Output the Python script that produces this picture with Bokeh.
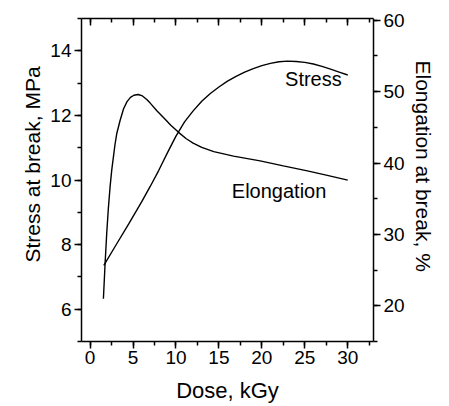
from bokeh.plotting import figure
from bokeh.models import Range1d, LinearAxis, SingleIntervalTicker, Label, Title
from bokeh.embed import file_html
from bokeh.resources import INLINE

# ---- data ----
stress_dose = [1.6, 3, 4.5, 6, 7, 8, 9, 10, 11, 12, 13, 14, 15, 16, 17, 18, 19, 20,
               21, 22, 23, 24, 25, 26, 27, 28, 29, 30]
stress_mpa = [7.36, 7.98, 8.64, 9.32, 9.8, 10.3, 10.84, 11.36, 11.8, 12.14, 12.44, 12.68,
              12.88, 13.06, 13.21, 13.34, 13.45, 13.54, 13.61, 13.66, 13.68, 13.67, 13.64,
              13.59, 13.52, 13.43, 13.34, 13.25]

elong_dose = [1.55, 1.75, 1.94, 2.13, 2.33, 2.52, 2.72, 2.9, 3.1, 3.5, 3.9, 4.3, 4.7, 5.1, 5.6,
              6.1, 6.6, 7.0, 7.8, 8.6, 9.4, 10.3, 11.2, 12.0, 13.0, 14.4, 16.7, 19.8, 22.5,
              25.3, 27.5, 30]
elong_pct = [21.0, 26.0, 30.2, 33.7, 36.7, 39.0, 40.9, 42.6, 44.1, 46.0, 47.6, 48.6, 49.2, 49.5,
             49.6, 49.4, 48.9, 48.4, 47.3, 46.3, 45.3, 44.3, 43.4, 42.8, 42.2, 41.6, 40.97,
             40.3, 39.6, 38.9, 38.3, 37.6]

x_title = "Dose, kGy"
y_title = "Stress at break, MPa"
y2_title = "Elongation at break, %"
label_stress = ("Stress", 22.7, 13.14)
label_elong = ("Elongation", 16.5, 9.67)

FONT = "Liberation Sans"
W, H = 441, 406

p = figure(width=W, height=H, output_backend="svg", toolbar_location=None,
           x_range=Range1d(-1, 33), y_range=Range1d(5, 15),
           min_border_left=81, min_border_right=68, min_border_top=18, min_border_bottom=65)
p.extra_y_ranges = {"elong": Range1d(15, 60.25)}
p.grid.visible = False
p.outline_line_color = None
p.background_fill_color = "white"
p.border_fill_color = "white"

p.line(stress_dose, stress_mpa, line_color="black", line_width=1.4)
p.line(elong_dose, elong_pct, line_color="black", line_width=1.4, y_range_name="elong")

def style(ax, ticks_in=False, labels=True, standoff=3):
    ax.axis_line_color = "black"
    ax.axis_line_width = 1.5
    ax.major_tick_line_color = "black"
    ax.minor_tick_line_color = "black"
    ax.major_tick_line_width = 1.5
    ax.minor_tick_line_width = 1.5
    if ticks_in:
        ax.major_tick_in, ax.major_tick_out = 7, 0
        ax.minor_tick_in, ax.minor_tick_out = 4, 0
    else:
        ax.major_tick_in, ax.major_tick_out = 0, 7
        ax.minor_tick_in, ax.minor_tick_out = 0, 4
    ax.major_label_text_font = FONT
    ax.axis_label_text_font = FONT
    ax.axis_label_text_font_style = "normal"
    ax.axis_label_text_font_size = "22px"
    ax.axis_label_text_color = "black"
    if labels:
        ax.major_label_text_color = "black"
        ax.major_label_text_font_size = "19px"
        ax.major_label_standoff = standoff
    else:
        ax.major_label_text_color = None
        ax.major_label_text_font_size = "1px"
        ax.major_label_standoff = 0

xb = p.xaxis[0]
xb.ticker = SingleIntervalTicker(interval=5, num_minor_ticks=2)
xb.axis_label = x_title
xb.axis_label_standoff = 11
style(xb, standoff=2)

yl = p.yaxis[0]
yl.ticker = SingleIntervalTicker(interval=2, num_minor_ticks=2)
style(yl)

yr = LinearAxis(y_range_name="elong", ticker=SingleIntervalTicker(interval=10, num_minor_ticks=2))
style(yr)
p.add_layout(yr, "right")

xt = LinearAxis(ticker=SingleIntervalTicker(interval=5, num_minor_ticks=2))
style(xt, ticks_in=True, labels=False)
p.add_layout(xt, "above")

# vertical axis titles, placed as in the reference (a little above the frame centre)
p.add_layout(Title(text=y_title, align="left", offset=79, standoff=7,
                   text_font=FONT, text_font_size="21px", text_font_style="normal",
                   text_color="black"), "left")
p.add_layout(Title(text=y2_title, align="left", offset=42, standoff=9,
                   text_font=FONT, text_font_size="21px", text_font_style="normal",
                   text_color="black"), "right")

for txt, xx, yy in (label_stress, label_elong):
    p.add_layout(Label(x=xx, y=yy, text=txt, text_font=FONT, text_font_size="20px",
                       text_color="black", text_baseline="alphabetic", text_align="left"))

open("out.html", "w").write(file_html(p, INLINE))
